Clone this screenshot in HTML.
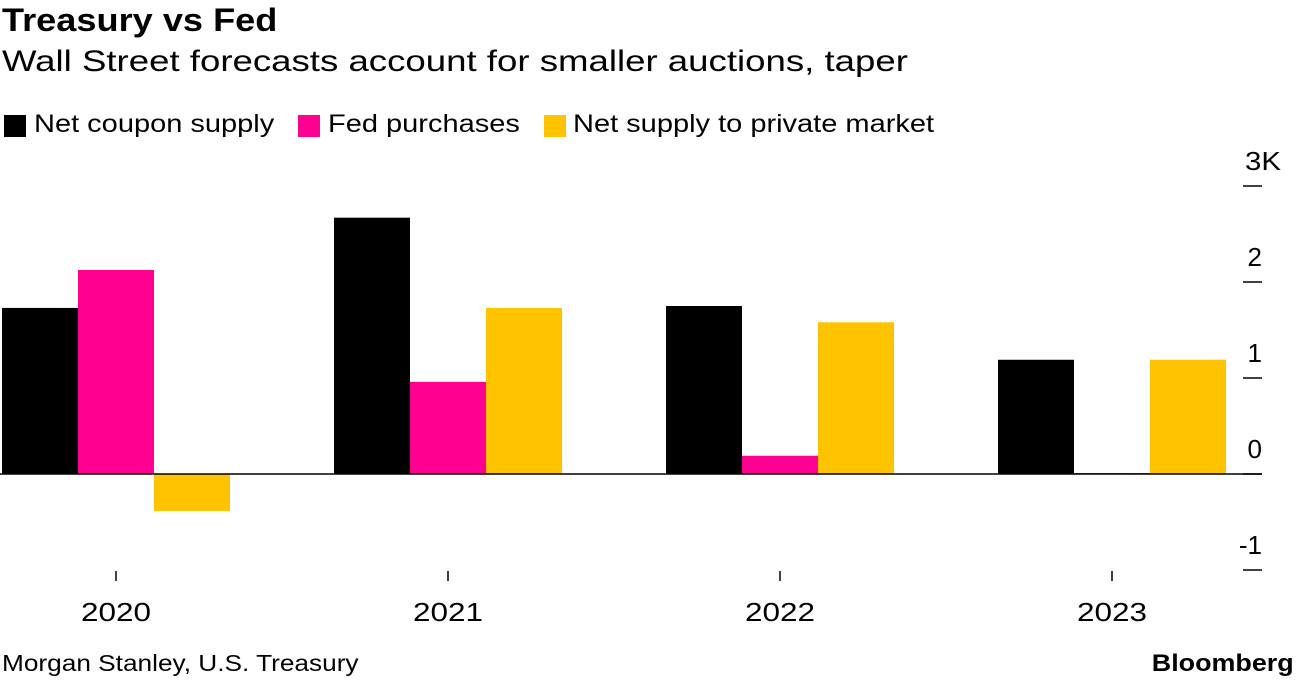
<!DOCTYPE html>
<html><head><meta charset="utf-8"><style>
body{margin:0;width:1296px;height:680px;background:#fff;font-family:"Liberation Sans",sans-serif;overflow:hidden;position:relative}
.t{position:absolute;white-space:nowrap;color:#000;transform-origin:left top}
.box{position:absolute;width:22px;height:22px}
</style></head><body>
<div class="t" style="left:2px;top:2px;font-size:32px;font-weight:bold;transform:scaleX(1.13)">Treasury vs Fed</div>
<div class="t" style="left:2px;top:45px;font-size:30px;transform:scaleX(1.22)">Wall Street forecasts account for smaller auctions, taper</div>
<div>
<div class="box" style="left:4px;top:115px;background:#000"></div>
<div class="t" style="left:34px;top:110px;font-size:25px;transform:scaleX(1.16)">Net coupon supply</div>
<div class="box" style="left:298px;top:115px;background:#ff0090"></div>
<div class="t" style="left:328px;top:110px;font-size:25px;transform:scaleX(1.16)">Fed purchases</div>
<div class="box" style="left:544px;top:115px;background:#ffc300"></div>
<div class="t" style="left:573px;top:110px;font-size:25px;transform:scaleX(1.16)">Net supply to private market</div>
</div>
<svg id="chart" width="1296" height="680" style="position:absolute;left:0;top:0"></svg>
<div class="t" style="left:2px;top:650px;font-size:23px;transform:scaleX(1.14)">Morgan Stanley, U.S. Treasury</div>
<div class="t" style="right:2px;top:650px;font-size:24px;font-weight:bold;transform-origin:right top;transform:scaleX(1.12)">Bloomberg</div>
<script>
const categories=["2020","2021","2022","2023"];
const netCoupon=[1.73,2.67,1.75,1.19];
const fedPurchases=[2.125,0.96,0.19,0.01];
const privateSupply=[-0.385,1.73,1.58,1.19];
const yTicks=[3,2,1,0,-1];
const yTickLabels=["3K","2","1","0","-1"];
const svg=document.getElementById('chart');
const NS='http://www.w3.org/2000/svg';
const y=v=>474-v*96;
const xc=i=>116+i*332;
const bw=76;
function mk(tag,attrs){const e=document.createElementNS(NS,tag);for(const k in attrs)e.setAttribute(k,attrs[k]);svg.appendChild(e);return e;}
yTicks.forEach((v,i)=>{
 const l=mk('line',{x1:1243,x2:1262,y1:y(v),y2:y(v),stroke:'#000','stroke-width':1.5});
 
 
 const t=mk('text',{x:1262,y:y(v)-16,'text-anchor':'end','font-size':26,'font-family':'Liberation Sans, sans-serif'});
 if(i===0){t.setAttribute('text-anchor','start');t.setAttribute('x',1245);t.setAttribute('textLength',36);t.setAttribute('lengthAdjust','spacingAndGlyphs');}
 t.textContent=yTickLabels[i];
 
 
});
const series=[[netCoupon,'#000','net-coupon'],[fedPurchases,'#ff0090','fed-purchases'],[privateSupply,'#ffc300','private-supply']];
categories.forEach((c,i)=>{
 series.forEach((s,j)=>{
  const v=s[0][i];const x0=xc(i)-1.5*bw+j*bw;
  const r=mk('rect',{x:x0,y:Math.min(y(v),y(0)),width:bw,height:Math.max(Math.abs(y(v)-y(0)),1),fill:s[1]});
  
  
 });
 const tk=mk('line',{x1:xc(i),x2:xc(i),y1:571,y2:581,stroke:'#000','stroke-width':1.5});
 
 
 const t=mk('text',{x:xc(i)-35,y:621,'font-size':26,'textLength':70,'lengthAdjust':'spacingAndGlyphs','font-family':'Liberation Sans, sans-serif'});
 t.textContent=c;
 
 
});
const z=mk('line',{x1:0,x2:1262,y1:y(0),y2:y(0),stroke:'#000','stroke-width':1.5});


</script>
</body></html>
